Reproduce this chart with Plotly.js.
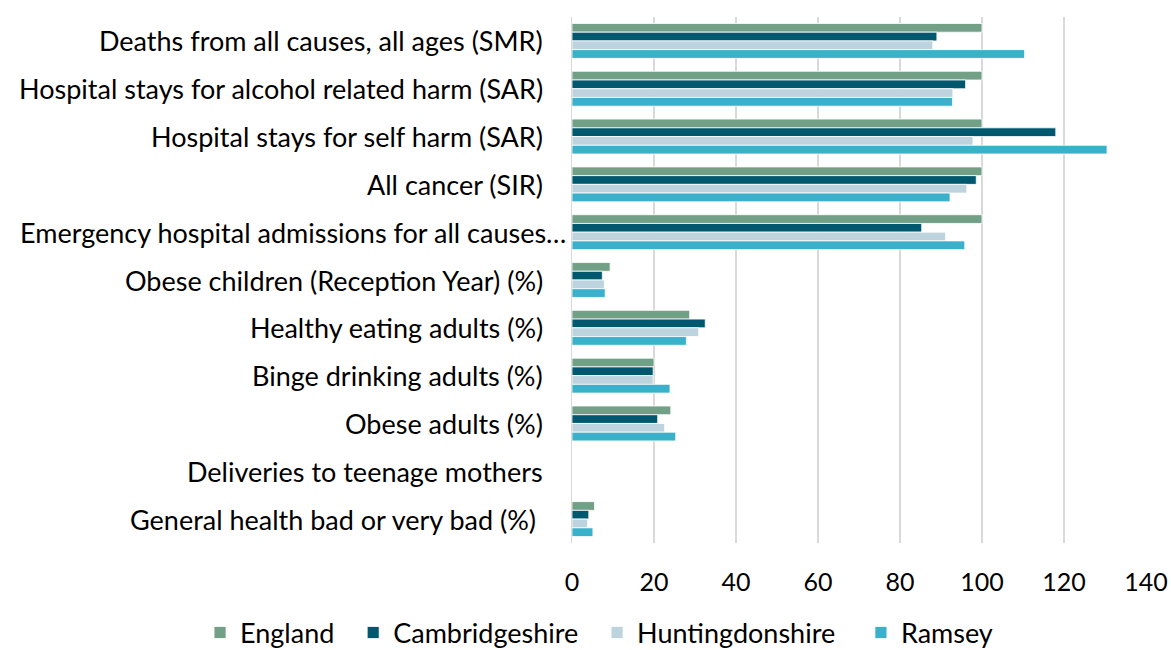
<!DOCTYPE html>
<html>
<head>
<meta charset="utf-8">
<script src="https://cdn.plot.ly/plotly-3.0.1.min.js"></script>
<style>html,body{margin:0;padding:0;background:#fff;}#chart{width:1171px;height:650px;}</style>
</head>
<body>
<div id="chart"></div>
<script>
const categories = [
  "Deaths from all causes, all ages (SMR)",
  "Hospital stays for alcohol related harm (SAR)",
  "Hospital stays for self harm (SAR)",
  "All cancer (SIR)",
  "Emergency hospital admissions for all causes…",
  "Obese children (Reception Year) (%)",
  "Healthy eating adults (%)",
  "Binge drinking adults (%)",
  "Obese adults (%)",
  "Deliveries to teenage mothers",
  "General health bad or very bad (%)"
];
const england         = [100, 100, 100, 100, 100, 9.3, 28.7, 20.0, 24.1, null, 5.5];
const cambridgeshire  = [89.0, 96.0, 118.0, 98.6, 85.3, 7.4, 32.5, 19.8, 20.9, null, 4.1];
const huntingdonshire = [88.0, 92.9, 97.8, 96.3, 91.1, 7.9, 30.9, 19.8, 22.6, null, 3.8];
const ramsey          = [110.4, 92.8, 130.5, 92.2, 95.8, 8.1, 27.9, 23.9, 25.3, null, 5.1];
const seriesNames = ["England", "Cambridgeshire", "Huntingdonshire", "Ramsey"];
const seriesColors = ["#71A087", "#00586F", "#BDD3DE", "#3BB0CA"];
const seriesValues = [england, cambridgeshire, huntingdonshire, ramsey];
const xTicks = [0, 20, 40, 60, 80, 100, 120, 140];

const font = "Lato, 'Open Sans', sans-serif";
const legendPads = ["\u00A0\u00A0", "\u00A0\u00A0", "\u00A0\u00A0\u00A0", ""]; // extra spacing between legend entries
const traces = seriesNames.map((name, i) => ({
  type: "bar",
  orientation: "h",
  name: name + legendPads[i],
  y: categories,
  x: seriesValues[i],
  marker: {color: seriesColors[i], line: {color: "#ffffff", width: 0.8}},
  hoverinfo: "x+name"
}));

// category labels as annotations so the Excel-truncated one can sit further right
const labelShift = (c, i) => c.endsWith("…") ? -4 : (i === categories.length - 1 ? -34 : -27);
const annotations = categories.map((c, i) => ({
  xref: "paper", x: 0, yref: "y", y: c,
  xanchor: "right", yanchor: "middle",
  xshift: labelShift(c, i),
  text: c, showarrow: false,
  font: {family: font, size: 27, color: "#000000"}
}));

const layout = {
  width: 1171,
  height: 650,
  margin: {l: 572, r: 25, t: 17, b: 107, autoexpand: false},
  paper_bgcolor: "#ffffff",
  plot_bgcolor: "#ffffff",
  barmode: "group",
  bargap: 0.27,
  bargroupgap: 0,
  font: {family: font, size: 27, color: "#000000"},
  xaxis: {
    range: [0, 140],
    tickvals: xTicks,
    ticktext: xTicks.map(String),
    showgrid: true,
    gridcolor: "#D9D9D9",
    gridwidth: 1.5,
    zeroline: false,
    showline: false,
    ticks: "",
    ticklabelstandoff: 22,
    tickfont: {family: font, size: 25, color: "#000000"}
  },
  yaxis: {
    type: "category",
    autorange: "reversed",
    showgrid: false,
    zeroline: false,
    showline: true,
    linecolor: "#D9D9D9",
    linewidth: 1.5,
    ticks: "",
    showticklabels: false
  },
  annotations: annotations,
  legend: {
    orientation: "h",
    x: -0.648,
    xanchor: "left",
    y: -0.171,
    yanchor: "middle",
    font: {family: font, size: 27, color: "#000000"},
    itemwidth: 30,
    traceorder: "normal"
  },
  showlegend: true
};

Plotly.newPlot("chart", traces, layout, {displayModeBar: false, staticPlot: true});
</script>
</body>
</html>
